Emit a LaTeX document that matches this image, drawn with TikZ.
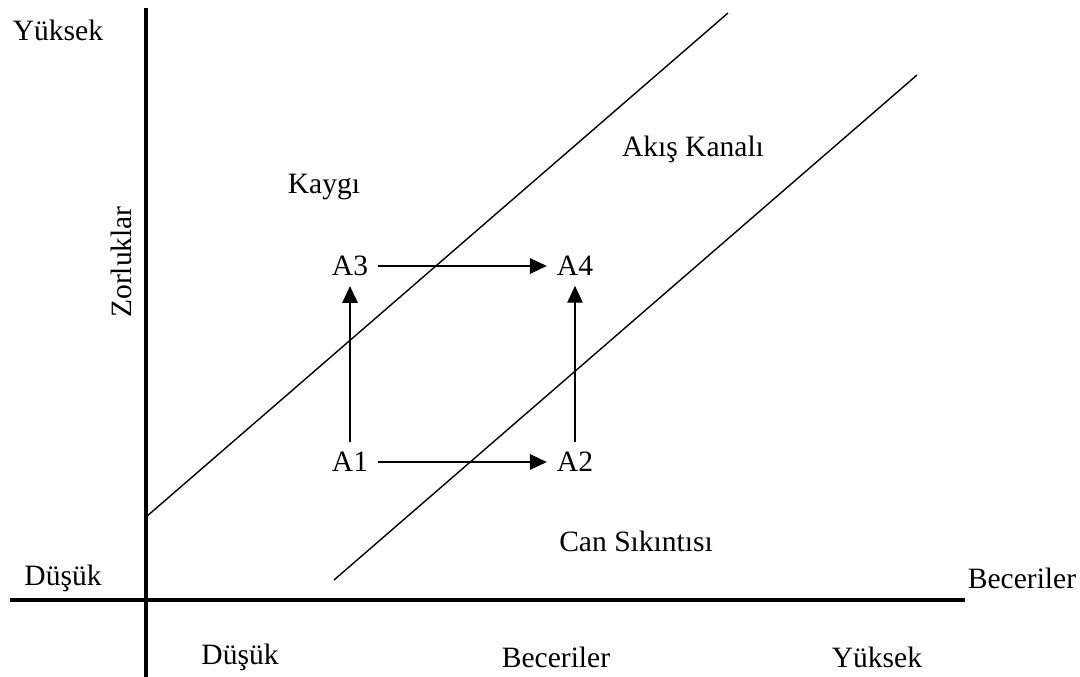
\documentclass[tikz,border=0pt]{standalone}
\usepackage{fontspec}
\setmainfont{Liberation Serif}
\usetikzlibrary{arrows.meta,positioning}

\begin{document}
\begin{tikzpicture}[
  x=0.025cm, y=-0.025cm,
  font=\fontsize{21}{25}\selectfont,
  >={Triangle[length=12pt, width=11pt]},
  lbl/.style={inner sep=0pt},
  state/.style={inner sep=7pt},
  axis_line/.style={line width=2.2pt, color=black},
  band_line/.style={line width=1pt, color=black},
  move_arr/.style={->, line width=1pt, color=black}
]
  \useasboundingbox (0,0) rectangle (1080,677);

  % Axes
  \coordinate (yaxtop) at (146,8);
  \coordinate (yaxbot) at (146,677);
  \coordinate (xaxleft) at (10,600);
  \coordinate (xaxright) at (965,600);
  \draw[axis_line] (yaxtop) -- (yaxbot);
  \draw[axis_line] (xaxleft) -- (xaxright);

  % Flow channel borders
  \coordinate (upperlo) at (146,517);
  \coordinate (upperhi) at (728,13);
  \coordinate (lowerlo) at (334,580);
  \coordinate (lowerhi) at (917,75);
  \draw[band_line] (upperlo) -- (upperhi);
  \draw[band_line] (lowerlo) -- (lowerhi);

  % Axis labels
  \node[lbl] (yhigh) at (58,30) {Yüksek};
  \node[lbl] (ylow) at (63,578) {Düşük};
  \node[lbl, rotate=90] (ytitle) at (121,262) {Zorluklar};
  \node[lbl] (xtitle) at (1022,578) {Beceriler};
  \node[lbl] (xlow) at (240,657) {Düşük};
  \node[lbl] (xmid) at (556,657) {Beceriler};
  \node[lbl] (xhigh) at (877,657) {Yüksek};

  % Region labels
  \node[lbl] (anxiety) at (324,187) {Kaygı};
  \node[lbl] (flow) at (693,149) {Akış Kanalı};
  \node[lbl] (boredom) at (636,541) {Can Sıkıntısı};

  % States
  \node[state] (a3) at (350,266) {A3};
  \node[state] (a4) at (575,266) {A4};
  \node[state] (a1) at (350,462) {A1};
  \node[state] (a2) at (575,462) {A2};

  % Movements
  \draw[move_arr] (a3) -- (a4);
  \draw[move_arr] (a1) -- (a2);
  \draw[move_arr] (a1) -- (a3);
  \draw[move_arr] (a2) -- (a4);
\end{tikzpicture}
\end{document}
